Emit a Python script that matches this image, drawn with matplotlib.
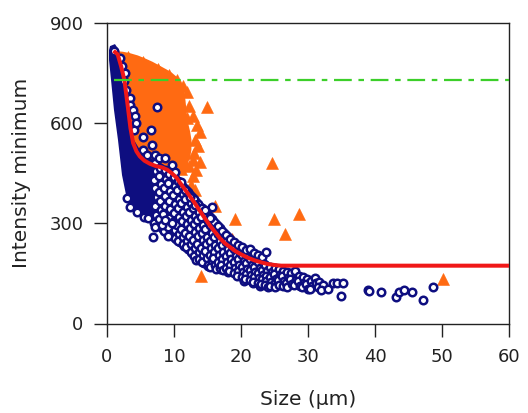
import matplotlib
matplotlib.use("Agg")
import matplotlib.pyplot as plt

# dense part of the triangle cloud (outline) and the individual triangles around it
blob_x = [1.4, 2.4, 3.4, 4.6, 5.7, 6.8, 7.9, 8.9, 9.7, 10.4, 10.9, 11.4, 11.7, 11.9, 12.1,
          12.4, 12.6, 12.6, 12.4, 12.0, 11.4, 10.4, 8.0, 5.5, 3.5, 2.2]
blob_y = [815, 813, 809, 802, 793, 783, 771, 760, 750, 738, 722, 700, 670, 630, 600,
          575, 550, 520, 495, 478, 468, 462, 470, 490, 560, 700]

tri_x = [3.1, 5.3, 7.6, 9.3, 10.5, 11.4, 11.9, 12.3, 12.0, 12.9, 13.4, 13.9, 13.2, 13.6,
         13.0, 13.9, 12.9, 13.3, 12.8, 12.6, 13.1, 11.6, 12.2, 11.0,
         14.9, 16.1, 19.1, 24.9, 28.6, 26.6, 18.6, 14.0, 24.6, 50.1]
tri_y = [798, 783, 760, 745, 730, 712, 694, 652, 614, 620, 594, 574, 550, 530,
         510, 484, 489, 460, 440, 414, 400, 478, 470, 462,
         649, 352, 314, 312, 327, 268, 252, 142, 480, 132]

# tightly packed part of the circle cloud (outline)
core_x = [0.45, 1.19, 1.79, 2.09, 2.54, 2.99, 3.43, 4.03, 4.93, 6.42, 8.21, 9.5, 10.5,
          11.3, 11.8, 11.5, 10.5, 9.0, 7.5, 6.0, 4.5, 3.5, 3.0, 2.24, 1.64, 1.04, 0.60,
          0.30, 0.30]
core_y = [830, 836, 818, 773, 713, 654, 594, 549, 519, 495, 477, 455, 428,
          400, 370, 340, 315, 300, 305, 320, 330, 345, 369, 444, 549, 639, 729,
          788, 818]

# circles along the rim of the packed part
rim_x = [1.0, 1.9, 2.3, 2.7, 2.6, 2.9, 3.4, 3.4, 3.9, 4.2, 4.4, 4.0, 5.4, 6.5, 7.5, 6.7,
         5.4, 5.9, 7.2, 7.8, 8.7, 9.7, 10.1, 11.1, 11.6, 12.4, 13.1, 14.6, 15.4, 15.6,
         4.5, 5.5, 6.1, 7.2, 6.9, 8.2, 8.7, 9.1, 9.7, 3.5, 3.0]
rim_y = [815, 795, 770, 749, 725, 698, 676, 654, 640, 620, 600, 580, 559, 579, 649, 534,
         519, 504, 504, 496, 494, 474, 454, 424, 399, 379, 355, 340, 315, 350,
         335, 318, 315, 290, 259, 295, 310, 262, 300, 350, 375]

# circles of the descending band
band_x = [
    7.1, 7.3, 7.0, 7.2, 7.4, 7.1, 7.3, 7.0,
    7.9, 7.7, 8.0, 7.8, 7.9, 8.1, 7.8, 8.0,
    8.6, 8.8, 8.5, 8.7, 8.6, 8.4, 8.7, 8.5,
    9.3, 9.1, 9.4, 9.2, 9.4, 9.3, 9.1, 9.4,
    10.0, 10.2, 9.9, 10.1, 10.0, 9.8, 10.1, 10.2,
    10.6, 10.5, 10.8, 10.6, 10.7, 10.5, 10.8, 10.6,
    11.2, 11.4, 11.1, 11.3, 11.2, 11.0, 11.3, 11.4,
    11.8, 11.7, 12.0, 11.8, 11.9, 11.7, 12.0, 11.8,
    12.4, 12.6, 12.3, 12.5, 12.4, 12.2, 12.5, 12.6,
    13.0, 12.9, 13.2, 13.0, 13.1, 12.9, 13.2, 13.0, 13.3,
    13.6, 13.8, 13.5, 13.7, 13.6, 13.4, 13.7, 13.8,
    14.2, 14.1, 14.4, 14.2, 14.3, 14.1, 14.4, 14.2,
    14.8, 15.0, 14.7, 14.9, 14.8, 14.6, 14.9, 15.0,
    15.4, 15.3, 15.6, 15.4, 15.5, 15.3, 15.6, 15.4,
    16.0, 16.2, 15.9, 16.1, 16.0, 15.8, 16.1, 16.2,
    16.6, 16.5, 16.8, 16.6, 16.7, 16.5, 16.8,
    17.2, 17.4, 17.1, 17.3, 17.2, 17.0, 17.3,
    17.8, 17.7, 18.0, 17.8, 17.9, 17.7, 18.0,
    18.4, 18.6, 18.3, 18.5, 18.4, 18.2,
    19.0, 18.9, 19.2, 19.0, 19.1, 18.9,
    19.6, 19.8, 19.5, 19.7, 19.6, 19.4,
    20.2, 20.1, 20.4, 20.2, 20.3, 20.1, 20.5,
    20.8, 21.0, 20.7, 20.9, 20.8, 20.6,
    21.4, 21.3, 21.6, 21.4, 21.5, 21.3, 21.8,
    22.0, 22.2, 21.9, 22.1, 22.0, 21.8,
    22.6, 22.5, 22.8, 22.6, 22.7, 22.5, 22.8,
    23.2, 23.4, 23.1, 23.3, 23.2, 23.0,
    23.8, 23.6, 23.9, 23.7, 23.8, 23.6, 24.0,
    24.4, 24.6, 24.3, 24.5, 24.4,
    25.0, 24.9, 25.2, 25.0, 25.1, 25.5,
    25.6, 25.8, 25.5, 25.7,
    26.2, 26.1, 26.4, 26.2,
    26.8, 27.0, 26.7, 26.9,
    27.4, 27.3, 27.6,
    28.0, 28.2, 27.9,
    28.6, 28.5, 28.8,
    29.2, 29.4, 29.1,
    29.8, 29.7, 30.0,
    30.4, 30.6, 30.3,
    31.0, 31.2,
    31.6, 31.5,
    32.2, 32.0,
]
band_y = [
    480, 455, 430, 405, 378, 352, 326, 300,
    466, 441, 418, 392, 366, 340, 314, 288,
    458, 432, 406, 380, 353, 327, 302, 276,
    448, 420, 395, 368, 342, 316, 290, 266,
    438, 410, 383, 357, 331, 305, 280, 255,
    425, 398, 372, 346, 320, 294, 268, 248,
    412, 386, 360, 334, 308, 283, 258, 238,
    400, 374, 348, 322, 297, 272, 248, 228,
    385, 360, 335, 310, 286, 262, 238, 215,
    372, 347, 322, 298, 274, 250, 226, 203, 190,
    358, 333, 309, 286, 262, 238, 215, 193,
    345, 320, 296, 272, 250, 227, 205, 184,
    332, 308, 284, 260, 238, 216, 195, 176,
    318, 295, 271, 248, 226, 205, 186, 170,
    305, 282, 259, 236, 215, 195, 176, 164,
    292, 268, 246, 225, 204, 185, 166,
    278, 256, 234, 213, 194, 176, 160,
    265, 243, 222, 202, 184, 166, 154,
    254, 232, 211, 192, 174, 156,
    244, 222, 202, 184, 165, 150,
    236, 214, 194, 176, 158, 142,
    228, 206, 187, 170, 154, 140, 128,
    221, 199, 181, 164, 148, 134,
    224, 193, 176, 159, 144, 130, 120,
    212, 188, 170, 154, 139, 125,
    206, 183, 166, 150, 136, 122, 112,
    198, 178, 161, 146, 132, 118,
    215, 174, 157, 142, 128, 115, 110,
    170, 153, 138, 124, 112,
    166, 149, 134, 121, 108, 125,
    162, 145, 130, 116,
    158, 141, 126, 113,
    154, 137, 122, 110,
    150, 133, 118,
    156, 130, 116,
    142, 126, 112,
    138, 121, 108,
    133, 117, 104,
    128, 113, 102,
    136, 120,
    124, 108,
    116, 100,
]

# second, interleaved set in the crowded upper part of the band
crowd_x = [
    7.6, 7.5, 7.7, 7.6, 7.5, 7.7, 7.6,
    8.3, 8.2, 8.4, 8.3, 8.1, 8.4, 8.2, 8.3,
    9.0, 8.9, 9.1, 9.0, 8.8, 9.1, 8.9, 9.0,
    9.7, 9.6, 9.8, 9.7, 9.5, 9.8, 9.6, 9.7,
    10.3, 10.4, 10.2, 10.3, 10.5, 10.2, 10.4, 10.3,
    10.9, 10.8, 11.0, 10.9, 10.7, 11.0, 10.8, 10.9,
    11.5, 11.6, 11.4, 11.5, 11.7, 11.4, 11.6, 11.5,
    12.1, 12.0, 12.2, 12.1, 11.9, 12.2, 12.0, 12.1,
    12.7, 12.8, 12.6, 12.7, 12.9, 12.6, 12.8, 12.7,
    13.3, 13.2, 13.4, 13.3, 13.1, 13.4, 13.2, 13.3,
    13.9, 14.0, 13.8, 13.9, 14.1, 13.8, 14.0, 13.9,
    14.5, 14.4, 14.6, 14.5, 14.3, 14.6, 14.4, 14.5,
    15.1, 15.2, 15.0, 15.1, 15.3, 15.0, 15.2, 15.1,
    15.7, 15.6, 15.8, 15.7, 15.5, 15.8, 15.6,
    16.3, 16.4, 16.2, 16.3, 16.5, 16.2, 16.4,
    16.9, 16.8, 17.0, 16.9, 16.7, 17.0, 16.8,
    17.5, 17.6, 17.4, 17.5, 17.7, 17.4,
    18.1, 18.0, 18.2, 18.1, 17.9, 18.2,
]
crowd_y = [
    468, 443, 417, 391, 365, 339, 313,
    460, 435, 410, 384, 358, 332, 306, 282,
    452, 426, 400, 374, 348, 322, 296, 272,
    443, 415, 389, 362, 336, 310, 285, 262,
    430, 404, 378, 352, 326, 300, 274, 252,
    418, 392, 366, 340, 314, 288, 263, 243,
    405, 380, 354, 328, 302, 277, 253, 233,
    392, 367, 341, 316, 291, 267, 243, 222,
    378, 353, 328, 304, 280, 256, 232, 210,
    365, 340, 315, 292, 268, 244, 221, 199,
    350, 326, 302, 279, 256, 233, 210, 189,
    338, 314, 290, 266, 244, 222, 200, 181,
    325, 301, 278, 254, 232, 211, 190, 173,
    312, 288, 265, 242, 220, 200, 181,
    298, 275, 252, 230, 209, 190, 172,
    285, 262, 240, 219, 199, 180, 164,
    272, 250, 228, 208, 189, 171,
    260, 238, 217, 197, 179, 162,
]

# sparse tail of large objects
tail_x = [33.0, 33.8, 34.3, 35.2, 34.9, 38.9, 39.1, 40.9, 43.1, 43.6, 44.3, 45.5, 47.1, 48.6]
tail_y = [102, 120, 122, 122, 82, 100, 96, 93, 78, 93, 100, 95, 70, 110]

# fitted minimum-intensity curve
fit_x = [1.2, 1.6, 2.1, 2.6, 3.1, 3.5, 3.9, 4.4, 4.9, 5.6, 6.4, 7.3, 8.2, 9.0, 9.7,
         10.4, 10.9, 11.6, 12.4, 13.1, 13.9, 14.6, 15.4, 16.2, 16.9, 17.6, 18.4, 19.2,
         20.0, 21.0, 22.0, 23.0, 24.0, 25.0, 26.0, 60.0]
fit_y = [812, 805, 770, 728, 650, 585, 540, 515, 500, 487, 478, 471, 467, 460, 449,
         436, 421, 402, 380, 360, 336, 315, 292, 272, 254, 240, 228, 216,
         207, 197, 189, 183, 178, 175, 173, 173]

limit_y = 728

ORANGE = "#ff6a12"
NAVY = "#0e0e80"
INK = "#222222"

fig = plt.figure(figsize=(5.28, 4.13), dpi=100)
ax = fig.add_axes([107 / 528, 89.5 / 413, 402 / 528, 300.8 / 413])

ax.fill(blob_x, blob_y, color=ORANGE, lw=0, zorder=1)
ax.plot(tri_x, tri_y, ls="none", marker="^", ms=8, color=ORANGE, mec=ORANGE, mew=0.4, zorder=2)
ax.fill(core_x, core_y, color=NAVY, lw=0, zorder=3)
circle_style = dict(ls="none", marker="o", ms=5.4, mfc="white", mec=NAVY, mew=1.8, zorder=4)
for xs, ys in ((crowd_x, crowd_y), (band_x, band_y), (tail_x, tail_y), (rim_x, rim_y)):
    ax.plot(xs, ys, **circle_style)
ax.plot(fit_x, fit_y, color="#f01818", lw=2.9, solid_joinstyle="round", zorder=5)
ax.axhline(limit_y, xmin=1 / 60, color="#3ccf2a", lw=1.6, dashes=(8, 3, 2.5, 3), zorder=6)

ax.set_xlim(0, 60)
ax.set_ylim(0, 900)
ax.set_xticks(range(0, 61, 10))
ax.set_yticks([0, 300, 600, 900])
ax.tick_params(direction="out", length=9.5, width=1, labelsize=13, colors=INK)
ax.tick_params(axis="x", pad=8.5)
ax.tick_params(axis="y", pad=7.5)
for s in ax.spines.values():
    s.set_color(INK)
    s.set_linewidth(1)

ax.set_xlabel("Size (µm)", fontsize=14.5, color=INK, labelpad=17)
ax.set_ylabel("Intensity minimum", fontsize=14.5, color=INK, labelpad=13)

fig.savefig("out.png", dpi=100)
